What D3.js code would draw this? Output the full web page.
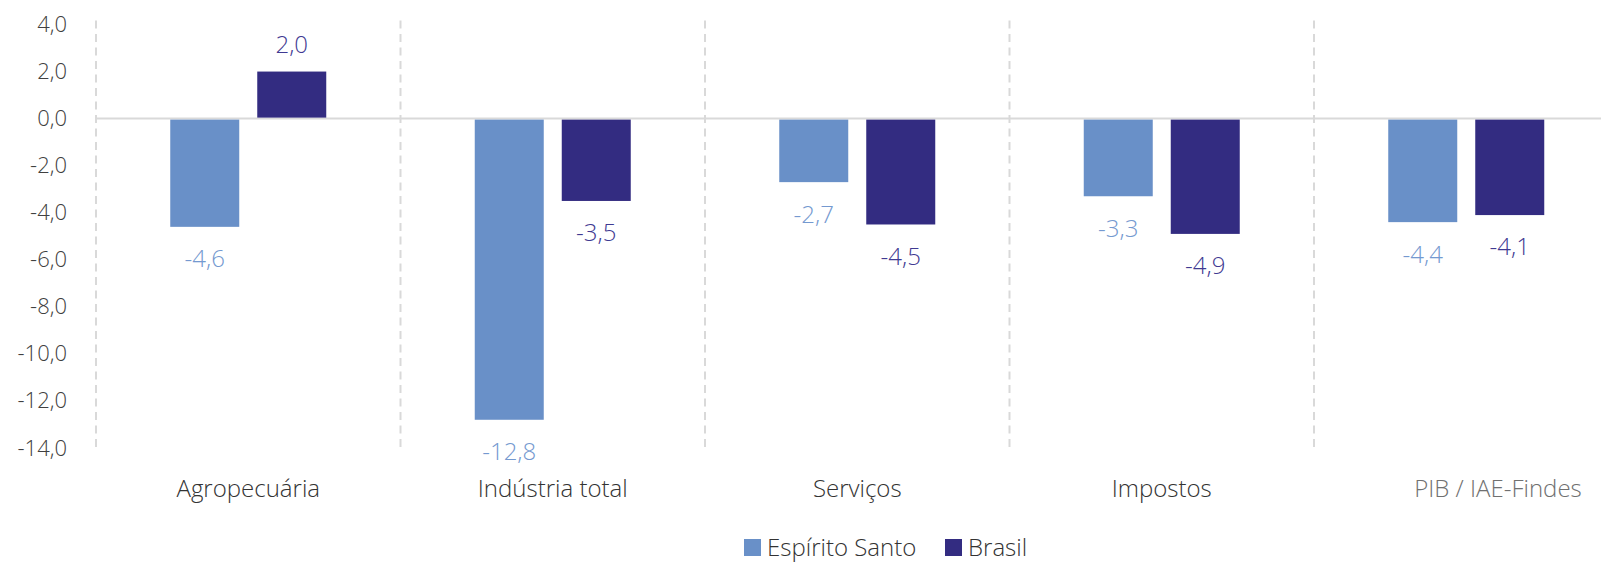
<!DOCTYPE html>
<html>
<head>
<meta charset="utf-8">
<script src="https://cdn.jsdelivr.net/npm/d3@7"></script>
<style>
  html, body { margin: 0; padding: 0; background: #fff; }
  svg { display: block; font-family: "Open Sans", "Noto Sans", sans-serif; font-weight: 300; }
</style>
</head>
<body>
<svg id="chart" width="1601" height="572"></svg>
<script>
const categories = ["Agropecuária", "Indústria total", "Serviços", "Impostos", "PIB / IAE-Findes"];
const series = ["Espírito Santo", "Brasil"];
const espiritoSanto = [-4.6, -12.8, -2.7, -3.3, -4.4];
const brasil = [2.0, -3.5, -4.5, -4.9, -4.1];
const yTicks = [4, 2, 0, -2, -4, -6, -8, -10, -12, -14];
const colors = ["#6990C8", "#332C81"];
const labelColors = ["#7499D0", "#3F3A92"];

const svg = d3.select("#chart");
const fmt = v => d3.format(".1f")(v).replace(".", ",").replace("−", "-");

const plotLeft = 96, catW = 304.5;
const x0 = d3.scaleBand().domain(categories).range([plotLeft, plotLeft + catW * categories.length]).padding(0);
const x1 = d3.scaleBand().domain(series).range([catW / 2 - 78, catW / 2 + 78]).paddingInner(18 / 87).paddingOuter(0);
const y = d3.scaleLinear().domain([-14, 4]).range([448, 24.5]);

// vertical dashed separators
svg.append("g").selectAll("line")
  .data(categories)
  .join("line")
  .attr("x1", d => x0(d)).attr("x2", d => x0(d))
  .attr("y1", y(4) - 4).attr("y2", y(-14))
  .attr("stroke", "#d9d9d9").attr("stroke-width", 2)
  .attr("stroke-dasharray", "8,5.5");

// zero line
svg.append("line")
  .attr("x1", plotLeft).attr("x2", 1601)
  .attr("y1", y(0)).attr("y2", y(0))
  .attr("stroke", "#d9d9d9").attr("stroke-width", 2);

// y axis labels
const yAxis = d3.axisLeft(y).tickValues(yTicks).tickSize(0).tickPadding(0).tickFormat(fmt);
const ya = svg.append("g").attr("transform", `translate(67,0)`).call(yAxis);
ya.select(".domain").remove();
ya.selectAll("text").attr("font-size", 22).attr("fill", "#404040")
  .attr("font-family", '"Open Sans", sans-serif').attr("font-weight", 300);

const data = categories.map((c, i) => ({ cat: c, vals: [espiritoSanto[i], brasil[i]] }));

const groups = svg.append("g").selectAll("g")
  .data(data).join("g")
  .attr("transform", d => `translate(${x0(d.cat)},0)`);

groups.selectAll("rect")
  .data(d => d.vals.map((v, j) => ({ s: series[j], v, j })))
  .join("rect")
  .attr("x", d => x1(d.s))
  .attr("width", x1.bandwidth())
  .attr("y", d => y(Math.max(0, d.v)) + (d.v < 0 ? 1 : 0))
  .attr("height", d => Math.abs(y(d.v) - y(0)) - 1)
  .attr("fill", d => colors[d.j]);

groups.selectAll("text.val")
  .data(d => d.vals.map((v, j) => ({ s: series[j], v, j })))
  .join("text")
  .attr("class", "val")
  .attr("x", d => x1(d.s) + x1.bandwidth() / 2)
  .attr("y", d => d.v >= 0 ? y(d.v) - 27 : y(d.v) + 32)
  .attr("dy", "0.35em")
  .attr("text-anchor", "middle")
  .attr("font-size", 24)
  .attr("fill", d => labelColors[d.j])
  .text(d => fmt(d.v));

// category labels
const catX = categories.map((c, i) => i === categories.length - 1 ? 1498 : x0(c) + catW / 2);
svg.append("g").selectAll("text")
  .data(categories)
  .join("text")
  .attr("x", (d, i) => catX[i])
  .attr("y", 489)
  .attr("dy", "0.35em")
  .attr("text-anchor", "middle")
  .attr("font-size", 24)
  .attr("fill", (d, i) => i === categories.length - 1 ? "#707070" : "#333333")
  .text(d => d);

// legend
const legend = svg.append("g");
const legX = [744, 945];
series.forEach((s, j) => {
  legend.append("rect").attr("x", legX[j]).attr("y", 539).attr("width", 17).attr("height", 17).attr("fill", colors[j]);
  legend.append("text").attr("x", legX[j] + 23).attr("y", 547.5).attr("dy", "0.35em")
    .attr("font-size", 24).attr("fill", "#333333").text(s);
});
</script>
</body>
</html>
